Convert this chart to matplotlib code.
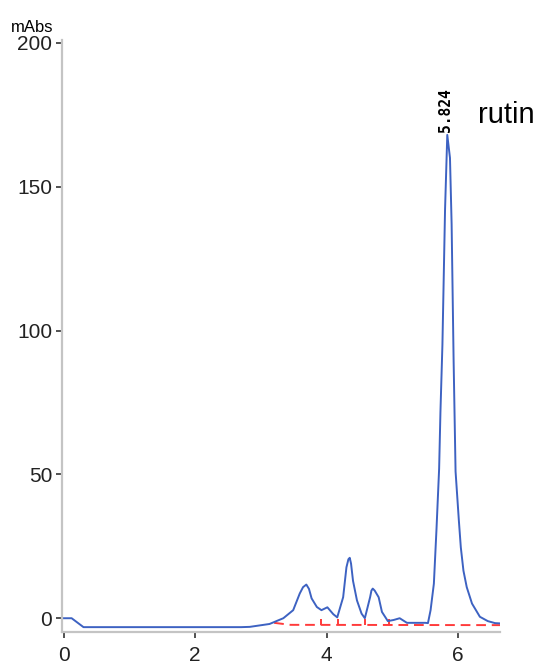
import matplotlib
matplotlib.use("Agg")
import matplotlib.pyplot as plt

# Хроматограма (час, хв -> поглинання, mAbs)
time_min = [0.0, 0.12, 0.3, 2.7, 2.83, 3.13, 3.34, 3.49, 3.59, 3.64, 3.69, 3.73,
            3.77, 3.85, 3.92, 4.01, 4.10, 4.16, 4.25, 4.30, 4.33, 4.35, 4.37,
            4.40, 4.46, 4.53, 4.58, 4.66, 4.68, 4.70, 4.73, 4.79, 4.84, 4.93,
            5.02, 5.11, 5.22, 5.50, 5.54, 5.58, 5.63, 5.67, 5.71, 5.73, 5.76,
            5.80, 5.834, 5.875, 5.90, 5.93, 5.96, 6.01, 6.04, 6.08, 6.13, 6.21,
            6.33, 6.45, 6.56, 6.64]
absorbance = [0.0, 0.0, -3.1, -3.1, -3.0, -2.0, 0.0, 2.8, 8.6, 10.8, 11.7, 10.2,
              6.9, 3.9, 2.8, 3.8, 1.4, 0.3, 7.3, 17.7, 20.5, 21.0, 19.0,
              13.0, 6.2, 1.6, 0.0, 7.3, 9.6, 10.3, 9.6, 7.3, 2.2, -1.0,
              -0.6, 0.0, -1.6, -1.6, -1.7, 2.8, 12.0, 31.0, 52.0, 71.7, 95.0,
              142.0, 168.0, 160.0, 137.0, 90.0, 51.0, 34.0, 24.6, 16.5, 10.8, 5.1,
              0.5, -1.0, -1.7, -1.8]

# Базова лінія інтегрування та межі піків
base_t = [3.2, 3.45, 6.64]
base_y = [-1.6, -2.3, -2.4]
drop_t = [3.92, 4.17, 4.58, 4.95]

peak_rt = 5.824
peak_h = 168.0
compound = "rutin"

x_ticks = [0, 2, 4, 6]
y_ticks = [0, 50, 100, 150, 200]

plt.rcParams['font.family'] = ['Liberation Sans', 'DejaVu Sans']

fig = plt.figure(figsize=(5.42, 6.66), dpi=100)
ax = fig.add_axes([0.114, 0.051, 0.809, 0.889])

ax.plot(base_t, base_y, color='#ff3b3b', lw=1.4, ls=(0, (5, 3)))
ax.vlines(drop_t, -2.4, -0.2, color='#ff3b3b', lw=1.4)
ax.plot(time_min, absorbance, color='#3d62c2', lw=1.4)

ax.text(peak_rt - 0.01, peak_h + 1.0, "5.824", rotation=90, ha='center', va='bottom',
        fontsize=10.5, fontweight='bold', family='DejaVu Sans Mono')
ax.text(6.30, 172, compound, fontsize=21, ha='left', va='baseline')
fig.text(0.02, 1 - 32 / 666, "mAbs", fontsize=12, ha='left', va='baseline')

ax.set_xlim(-0.03, 6.64)
ax.set_ylim(-4.8, 201)
ax.set_xticks(x_ticks)
ax.set_yticks(y_ticks)
ax.tick_params(axis='both', labelsize=15, direction='out', length=4, width=1.2,
               color='#333333', labelcolor='#222222')
ax.tick_params(axis='x', pad=6)
ax.tick_params(axis='y', pad=3)

for side in ['top', 'right']:
    ax.spines[side].set_visible(False)
for side in ['left', 'bottom']:
    ax.spines[side].set_color('#c4c4c4')
    ax.spines[side].set_linewidth(1.6)

fig.savefig("out.png", dpi=100)
